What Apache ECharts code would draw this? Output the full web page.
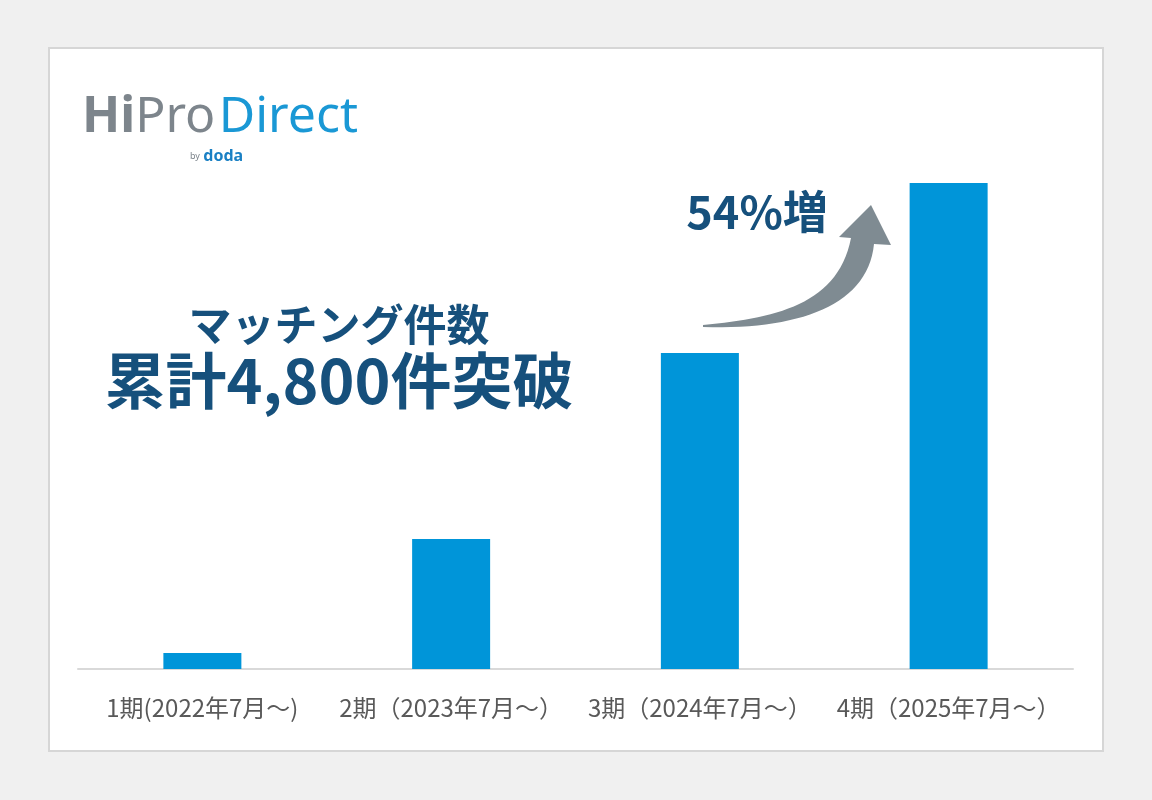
<!DOCTYPE html>
<html>
<head>
<meta charset="utf-8">
<script src="https://cdn.jsdelivr.net/npm/echarts@6/dist/echarts.min.js"></script>
<style>
html,body{margin:0;padding:0;background:#f0f0f0;}
#main{width:1152px;height:800px;}
</style>
</head>
<body>
<div id="main"></div>
<script>
const categories = ['1期(2022年7月～)', '2期（2023年7月～）', '3期（2024年7月～）', '4期（2025年7月～）'];
const matchCounts = [80, 650, 1580, 2430];
const headlineSub = 'マッチング件数';
const headlineMain = '累計4,800件突破';
const growthLabel = '54%増';

// decorative curved arrow outline (bezier sampled into polygon)
function bez(p0, p1, p2, p3, n) {
  const pts = [];
  for (let i = 0; i <= n; i++) {
    const t = i / n, u = 1 - t;
    pts.push([
      u*u*u*p0[0] + 3*u*u*t*p1[0] + 3*u*t*t*p2[0] + t*t*t*p3[0],
      u*u*u*p0[1] + 3*u*u*t*p1[1] + 3*u*t*t*p2[1] + t*t*t*p3[1]
    ]);
  }
  return pts;
}
const arrowPts = []
  .concat(bez([703, 325], [775, 318], [838, 305], [851, 238], 30))
  .concat([[839, 237], [871, 205], [891, 245], [874, 244]])
  .concat(bez([874, 244], [868, 305], [800, 330], [703, 327], 30));

const chart = echarts.init(document.getElementById('main'), null, {renderer: 'canvas'});
const jp = '"Noto Sans CJK JP", "Noto Sans", sans-serif';
const option = {
  backgroundColor: '#f0f0f0',
  animation: false,
  grid: {left: 78, right: 79, top: 69, bottom: 131},
  xAxis: {
    type: 'category',
    data: categories,
    axisLine: {lineStyle: {color: '#d9d9d9', width: 2}},
    axisTick: {show: false},
    axisLabel: {color: '#595959', fontSize: 24, fontFamily: jp, margin: 27, interval: 0, hideOverlap: false}
  },
  yAxis: {
    type: 'value', min: 0, max: 3000,
    show: false,
    splitLine: {show: false}
  },
  series: [{
    type: 'bar',
    data: matchCounts,
    barWidth: 78,
    itemStyle: {color: '#0095d9'},
    z: 5
  }],
  graphic: [
    {type: 'rect', z: -100, shape: {x: 49, y: 48, width: 1054, height: 703},
     style: {fill: '#ffffff', stroke: '#d6d6d6', lineWidth: 2}},
    {type: 'text', x: 82, y: 93, z: 10,
     style: {text: '{a|Hi}{b|Pro} {c|Direct}',
       rich: {
         a: {fontFamily: '"Noto Sans", sans-serif', fontWeight: 'bold', fontSize: 50, fill: '#7d858c'},
         b: {fontFamily: '"Noto Sans", sans-serif', fontWeight: 'normal', fontSize: 50, fill: '#7d858c'},
         c: {fontFamily: '"Noto Sans", sans-serif', fontWeight: 'normal', fontSize: 50, fill: '#1a98d5'}
       }}},
    {type: 'text', x: 190, y: 148, z: 10,
     style: {text: '{a|by} {b|doda}',
       rich: {
         a: {fontFamily: '"Noto Sans", sans-serif', fontSize: 9, fill: '#7d858c'},
         b: {fontFamily: '"Noto Sans", sans-serif', fontWeight: 'bold', fontSize: 16, fill: '#1a80c4'}
       }}},
    {type: 'text', x: 339, y: 325, z: 10,
     style: {text: headlineSub, fill: '#16507c', font: 'bold 43px ' + jp, textAlign: 'center', textVerticalAlign: 'middle'}},
    {type: 'text', x: 339, y: 381, z: 10,
     style: {text: headlineMain, fill: '#16507c', font: 'bold 61px ' + jp, textAlign: 'center', textVerticalAlign: 'middle'}},
    {type: 'text', x: 757, y: 212, z: 10,
     style: {text: growthLabel, fill: '#16507c', font: 'bold 45px ' + jp, textAlign: 'center', textVerticalAlign: 'middle'}},
    {type: 'polygon', z: 10,
     shape: {points: arrowPts},
     style: {fill: '#7f8b92'}}
  ]
};
chart.setOption(option);
</script>
</body>
</html>
